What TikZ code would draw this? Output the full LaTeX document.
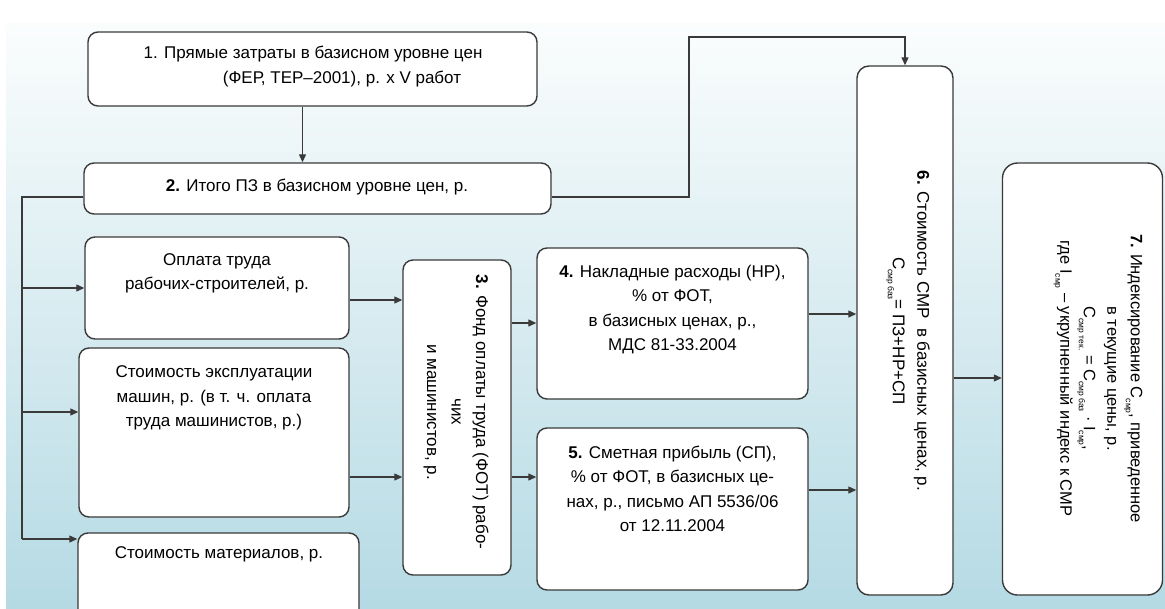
\documentclass[tikz,border=0pt]{standalone}
\usepackage{fontspec}
\setmainfont{Liberation Sans}
\usetikzlibrary{arrows.meta}
\newcommand\lowix[1]{\raisebox{-0.55ex}{\fontsize{8.5}{8.5}\selectfont #1}}
\definecolor{edge}{HTML}{3A3A3A}
\definecolor{bgtop}{HTML}{FBFDFD}
\definecolor{bgbot}{HTML}{B5DAE4}
\tikzset{
  box/.style={draw=edge, line width=1.4pt, fill=white, rounded corners=10pt, inner sep=0pt},
  lbl/.style={font=\fontsize{17}{24.5}\selectfont, align=center, inner sep=0pt, text=black},
  vlbl/.style={lbl, rotate=-90},
  conn/.style={draw=edge, line width=1.2pt},
  arr/.style={conn, -{Triangle[length=8pt,width=7pt]}},
}
\begin{document}
\begin{tikzpicture}[x=1pt,y=-1pt]
\useasboundingbox (0,0) rectangle (1165,608);
\clip (0,0) rectangle (1165,608);
\fill[white] (0,0) rectangle (1165,608);
\shade[top color=bgtop, bottom color=bgbot] (6,23) rectangle (1165,608);

% boxes
\node[box, minimum width=449pt, minimum height=74pt]  (b1)  at (312.5,69)  {};
\node[box, minimum width=467pt, minimum height=51pt]  (b2)  at (317.5,188.5) {};
\node[box, minimum width=264pt, minimum height=102pt] (opl) at (217,288)   {};
\node[box, minimum width=270pt, minimum height=169pt] (exp) at (214,432.5) {};
\node[box, minimum width=281pt, minimum height=92pt]  (mat) at (218.5,579) {};
\node[box, minimum width=108pt, minimum height=315pt] (b3)  at (457,417.5) {};
\node[box, minimum width=271pt, minimum height=151pt] (b4)  at (672.5,323.5) {};
\node[box, minimum width=271pt, minimum height=162pt] (b5)  at (672.5,509) {};
\node[box, minimum width=96pt,  minimum height=529pt, rounded corners=12pt] (b6) at (905,330.5) {};
\node[box, minimum width=160pt, minimum height=432pt, rounded corners=15pt] (b7) at (1082.5,379) {};

% texts
\node[lbl] (t1) at (313,66.5) {1. Прямые затраты в базисном уровне цен\\\hspace*{58pt}(ФЕР, ТЕР–2001), р. x V работ};
\node[lbl] (t2) at (317,187) {\textbf{2.} Итого ПЗ в базисном уровне цен, р.};
\node[lbl] (topl) at (217,273.5) {Оплата труда\\рабочих-строителей, р.};
\node[lbl] (texp) at (214,398) {Стоимость эксплуатации\\машин, р. (в т. ч. оплата\\труда машинистов, р.)};
\node[lbl] (tmat) at (219,554) {Стоимость материалов, р.};
\node[lbl] (t4) at (672.5,309.5) {\textbf{4.} Накладные расходы (НР),\\\% от ФОТ,\\в базисных ценах, р.,\\МДС 81-33.2004};
\node[lbl] (t5) at (672.5,489) {\textbf{5.} Сметная прибыль (СП),\\\% от ФОТ, в базисных це-\\нах, р., письмо АП 5536/06\\от 12.11.2004};
\node[vlbl] (t3) at (456,412) {\textbf{3.} Фонд оплаты труда (ФОТ) рабо-\\чих\\и машинистов, р.};
\node[vlbl] (t6) at (908,331) {\textbf{6.} Стоимость СМР\ \ в базисных ценах, р.\\С\lowix{смр баз}= ПЗ+НР+СП};
\node[vlbl, font=\fontsize{16.5}{23.5}\selectfont] (t7) at (1098,378.5) {\textbf{7.} Индексирование С\lowix{смр}, приведенное\\в текущие цены, р.\\С\lowix{смр тек.} = С\lowix{смр баз} · I\lowix{смр},\\где I\lowix{смр} – укрупненный индекс к СМР};

% helper coordinates
\coordinate (topTurn) at (689,37);
\coordinate (busBot) at (22,539);
\coordinate (yExp) at (0,412);
\coordinate (yOplB3) at (0,300);
\coordinate (yExpB3) at (0,477);
\coordinate (yB3B4) at (0,323);
\coordinate (yB3B5) at (0,477);
\coordinate (yB4B6) at (0,314);
\coordinate (yB5B6) at (0,490);
\coordinate (yB6B7) at (0,378);

% connectors
\draw[arr] ([xshift=-10pt]b1.south) -- ([xshift=-10pt]b1.south |- b2.north);
\draw[arr] ([yshift=-8.5pt]b2.east) -| (topTurn) -| (b6.north);
\draw[conn] ([yshift=-8.5pt]b2.west) -| (busBot);
\draw[arr] (busBot) -- (busBot -| mat.west);
\draw[arr] (busBot |- opl.west) -- (opl.west);
\draw[arr] (busBot |- yExp) -- (exp.west |- yExp);
\draw[arr] (opl.east |- yOplB3) -- (b3.west |- yOplB3);
\draw[arr] (exp.east |- yExpB3) -- (b3.west |- yExpB3);
\draw[arr] (b3.east |- yB3B4) -- (b4.west |- yB3B4);
\draw[arr] (b3.east |- yB3B5) -- (b5.west |- yB3B5);
\draw[arr] (b4.east |- yB4B6) -- (b6.west |- yB4B6);
\draw[arr] (b5.east |- yB5B6) -- (b6.west |- yB5B6);
\draw[arr] (b6.east |- yB6B7) -- (b7.west |- yB6B7);
\end{tikzpicture}
\end{document}
